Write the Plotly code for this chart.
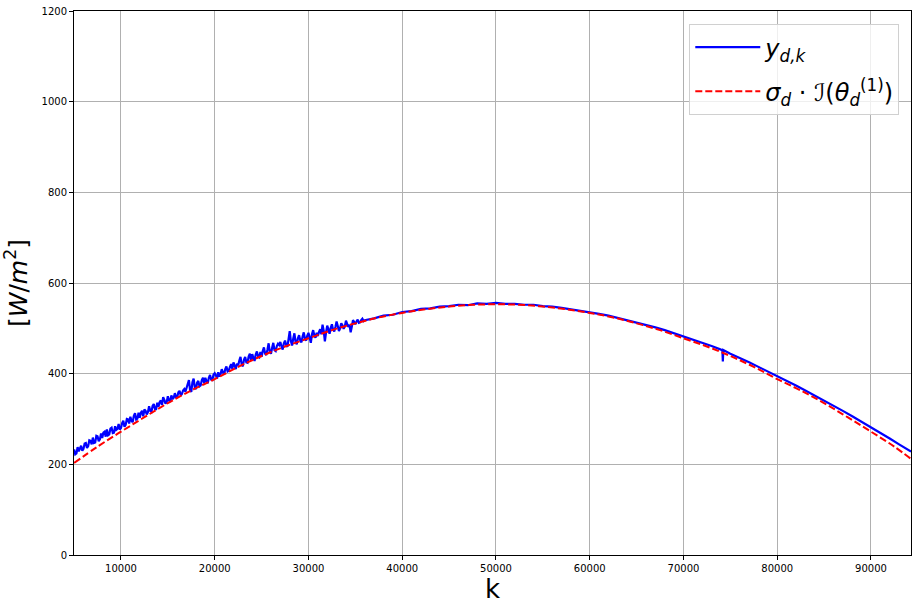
import plotly.graph_objects as go
import pandas as pd

# measured signal y_{d,k}: noisy morning part sampled every 250 steps
k_noisy = list(range(5000, 36000, 250))
y_noisy = [
    233, 224, 229, 241, 234, 247, 240, 252, 259, 248, 262, 255,
    258, 272, 277, 266, 281, 270, 276, 289, 280, 296, 287, 299,
    305, 293, 313, 301, 303, 318, 321, 310, 328, 316, 333, 322,
    327, 341, 348, 334, 350, 338, 344, 357, 348, 362, 355, 366,
    371, 386, 360, 389, 366, 384, 374, 391, 391, 379, 397, 386,
    401, 389, 394, 410, 398, 416, 407, 421, 425, 410, 418, 437,
    416, 437, 424, 444, 443, 428, 449, 436, 437, 458, 441, 467,
    444, 468, 450, 466, 470, 453, 473, 459, 494, 462, 489, 465,
    485, 469, 491, 473, 490, 468, 496, 479, 483, 498, 508, 471,
    506, 488, 509, 493, 515, 494, 511, 499, 517, 503, 491, 518,
    509, 519, 513, 521,
]

# same part, readings between the samples above
k_noisy_mid = list(range(5125, 36000, 250))
y_noisy_mid = [
    222, 238, 236, 230, 246, 236, 253, 244, 247, 263, 251, 268,
    270, 261, 264, 279, 269, 284, 278, 277, 291, 283, 300, 290,
    296, 307, 299, 314, 314, 306, 318, 315, 318, 329, 322, 336,
    337, 331, 342, 337, 341, 352, 347, 348, 359, 352, 363, 360,
    378, 363, 381, 370, 380, 372, 386, 379, 383, 391, 387, 398,
    396, 403, 399, 403, 410, 405, 415, 411, 418, 422, 429, 421,
    431, 425, 438, 430, 435, 442, 438, 448, 450, 444, 453, 448,
    457, 452, 461, 463, 460, 467, 463, 476, 472, 477, 470, 478,
    473, 482, 477, 484, 480, 487, 484, 490, 492, 487, 495, 491,
    498, 501, 497, 503, 505, 500, 507, 504, 510, 508, 504, 514,
    515, 512, 518, 516,
]

# smoother afternoon part, every 1000 steps
k_tail = list(range(36000, 95000, 1000)) + [94270]
y_tail = [
    518, 522, 528, 530, 536, 538, 543, 544, 548, 549, 552, 551,
    555, 554, 556, 554, 554, 552, 552, 549, 548, 545, 542, 539,
    536, 532, 528, 523, 518, 513, 508, 502, 496, 489, 483, 476,
    469, 461, 453, 444, 435, 425, 415, 405, 394, 384, 374, 363,
    352, 341, 330, 318, 306, 294, 282, 270, 257, 244, 231, 228,
]

# single dip near k = 74200
k_spike = [74150, 74200, 74250]
y_spike = [452, 427, 452]

# model sigma_d * I(theta_d^(1))
k_model = list(range(5000, 95000, 2500)) + [94270]
y_model = [
    203, 239, 272, 304, 335, 363, 388, 415, 439, 460, 478, 496,
    511, 524, 534, 542, 548, 552, 553, 552, 548, 542, 534, 524,
    511, 496, 478, 460, 439, 415, 388, 363, 335, 304, 272, 239,
    212,
]

meas = pd.DataFrame({
    "k": k_noisy + k_noisy_mid + k_tail + k_spike,
    "y": y_noisy + y_noisy_mid + y_tail + y_spike,
}).sort_values("k")

fig = go.Figure()

fig.add_trace(go.Scatter(
    x=meas["k"], y=meas["y"],
    mode='lines',
    line=dict(color='blue', width=2.2),
    legendgroup='meas',
    name='<i>y</i><sub><i>d,k</i></sub>'
))

fig.add_trace(go.Scatter(
    x=k_model, y=y_model,
    mode='lines',
    line=dict(color='red', width=2, dash='7px,3px', shape='spline'),
    legendgroup='model',
    name='<i>σ</i><sub><i>d</i></sub> · <i>ℐ</i>(<i>θ</i><sub><i>d</i></sub><sup>(1)</sup>)'
))

axis_common = dict(
    showgrid=True,
    gridcolor='#b0b0b0',
    gridwidth=0.8,
    showline=True,
    linecolor='black',
    linewidth=1,
    mirror=True,
    ticks='outside',
    ticklen=4,
    tickcolor='black',
    tickfont=dict(family='DejaVu Sans', size=10, color='black'),
    zeroline=False,
    automargin=False,
)

fig.update_xaxes(
    range=[4990, 94270],
    tickvals=[10000, 20000, 30000, 40000, 50000, 60000, 70000, 80000, 90000],
    ticktext=['10000', '20000', '30000', '40000', '50000', '60000', '70000', '80000', '90000'],
    title=dict(text='k', font=dict(family='DejaVu Sans', size=26, color='black'), standoff=6),
    **axis_common
)
fig.update_yaxes(
    range=[0, 1200],
    tickvals=[0, 200, 400, 600, 800, 1000, 1200],
    title=dict(text='[<i>W</i>/<i>m</i><sup>2</sup>]',
               font=dict(family='DejaVu Sans', size=25, color='black'), standoff=19),
    **axis_common
)

fig.update_layout(
    width=922,
    height=607,
    margin=dict(l=74, r=11, t=11, b=52),
    paper_bgcolor='white',
    plot_bgcolor='white',
    font=dict(family='DejaVu Sans'),
    legend=dict(
        x=0.986, y=0.976,
        xanchor='right', yanchor='top',
        bgcolor='rgba(255,255,255,0.8)',
        bordercolor='#d0d0d0',
        borderwidth=1,
        font=dict(family='DejaVu Sans', size=24, color='black'),
        itemwidth=65,
        tracegroupgap=10,
    ),
)

# drop the default page margin so the figure sits at the window corner
fig.write_html(
    "out.html",
    config={"displayModeBar": False},
    post_script="document.body.style.margin='0';document.body.style.overflow='hidden';",
)
